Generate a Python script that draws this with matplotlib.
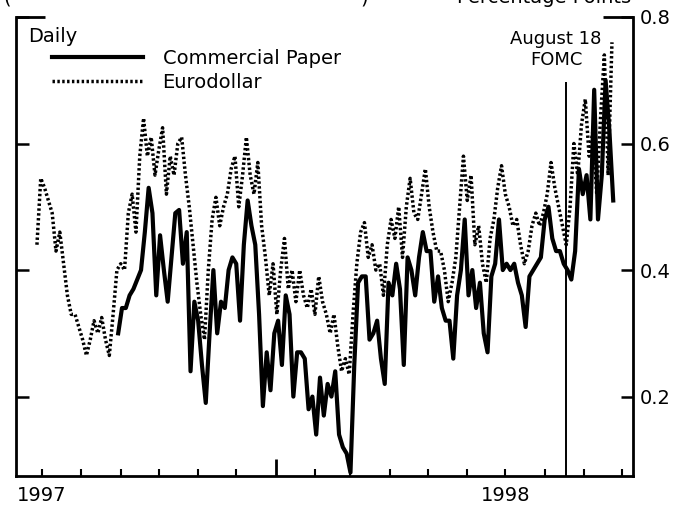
import matplotlib
matplotlib.use('Agg')
import matplotlib.pyplot as plt
import matplotlib.dates as mdates
import pandas as pd

# daily spreads, read every third calendar day off the chart (percentage points)
eurodollar_start = '1997-06-27'
eurodollar = [
    0.44, 0.545, 0.53, 0.51, 0.49, 0.43, 0.46, 0.41, 0.36, 0.33,
    0.33, 0.31, 0.29, 0.265, 0.29, 0.32, 0.30, 0.325, 0.29, 0.265,
    0.33, 0.40, 0.41, 0.40, 0.49, 0.52, 0.46, 0.58, 0.64, 0.58,
    0.61, 0.55, 0.59, 0.625, 0.52, 0.58, 0.55, 0.60, 0.61, 0.55,
    0.50, 0.44, 0.38, 0.33, 0.29, 0.40, 0.48, 0.515, 0.47, 0.50,
    0.52, 0.56, 0.58, 0.50, 0.55, 0.61, 0.55, 0.52, 0.57, 0.47,
    0.42, 0.36, 0.41, 0.33, 0.40, 0.45, 0.37, 0.40, 0.35, 0.40,
    0.36, 0.34, 0.37, 0.33, 0.39, 0.35, 0.33, 0.30, 0.33, 0.28,
    0.24, 0.26, 0.235, 0.33, 0.41, 0.46, 0.475, 0.42, 0.44, 0.40,
    0.41, 0.36, 0.44, 0.48, 0.45, 0.50, 0.42, 0.50, 0.545, 0.49,
    0.48, 0.52, 0.56, 0.50, 0.46, 0.43, 0.43, 0.40, 0.35, 0.38,
    0.42, 0.50, 0.58, 0.51, 0.55, 0.44, 0.47, 0.41, 0.38, 0.45,
    0.48, 0.53, 0.565, 0.52, 0.50, 0.47, 0.48, 0.44, 0.41, 0.43,
    0.47, 0.49, 0.47, 0.49, 0.52, 0.57, 0.53, 0.50, 0.47, 0.44,
    0.50, 0.60, 0.55, 0.63, 0.67, 0.58, 0.62, 0.52, 0.64, 0.74,
    0.55, 0.76,
]

cp_start = '1997-08-30'
commercial_paper = [
    0.30, 0.34, 0.34, 0.36, 0.37, 0.385, 0.40, 0.46, 0.53, 0.49,
    0.36, 0.455, 0.40, 0.35, 0.42, 0.49, 0.495, 0.41, 0.46, 0.24,
    0.35, 0.32, 0.25, 0.19, 0.30, 0.40, 0.30, 0.35, 0.34, 0.40,
    0.42, 0.41, 0.32, 0.44, 0.51, 0.47, 0.44, 0.33, 0.185, 0.27,
    0.21, 0.30, 0.32, 0.25, 0.36, 0.33, 0.20, 0.27, 0.27, 0.26,
    0.18, 0.20, 0.14, 0.23, 0.17, 0.22, 0.20, 0.24, 0.14, 0.12,
    0.11, 0.08, 0.25, 0.38, 0.39, 0.39, 0.29, 0.30, 0.32, 0.26,
    0.22, 0.38, 0.36, 0.41, 0.37, 0.25, 0.42, 0.40, 0.36, 0.42,
    0.46, 0.43, 0.43, 0.35, 0.39, 0.34, 0.32, 0.32, 0.26, 0.36,
    0.40, 0.48, 0.36, 0.40, 0.34, 0.38, 0.30, 0.27, 0.39, 0.41,
    0.48, 0.40, 0.41, 0.40, 0.41, 0.38, 0.36, 0.31, 0.39, 0.40,
    0.41, 0.42, 0.48, 0.50, 0.45, 0.43, 0.43, 0.41, 0.40, 0.385,
    0.43, 0.56, 0.52, 0.55, 0.48, 0.685, 0.48, 0.55, 0.70, 0.62,
    0.51,
]

series_labels = ['Commercial Paper', 'Eurodollar']
year_labels = ['1997', '1998']
year_label_dates = ['1997-07-01', '1998-07-01']
fomc_date = '1998-08-18'
y_ticks = [0.2, 0.4, 0.6, 0.8]

plt.rcParams['font.family'] = 'DejaVu Sans'

ed_dates = pd.date_range(eurodollar_start, periods=len(eurodollar), freq='3D')
cp_dates = pd.date_range(cp_start, periods=len(commercial_paper), freq='3D')

fig = plt.figure(figsize=(6.93, 5.09), dpi=100)
ax = fig.add_axes([16 / 693, 33 / 509, 617 / 693, 459 / 509])

cp_line, = ax.plot(cp_dates, commercial_paper, color='black', lw=3.0)
ed_line, = ax.plot(ed_dates, eurodollar, color='black', lw=2.5,
                   linestyle=(0, (0.7, 0.7)))

ax.set_xlim(mdates.date2num(pd.Timestamp('1997-06-10 12:00')),
            mdates.date2num(pd.Timestamp('1998-10-09 14:00')))
ax.set_ylim(0.0745, 0.8)

# FOMC marker
fomc = mdates.date2num(pd.Timestamp(fomc_date))
ax.vlines(fomc, 0.0745, 0.697, color='black', lw=1.4)
ax.text(fomc - 8, 0.749, 'August 18\nFOMC', ha='center', va='center',
        fontsize=13, linespacing=1.25)

# frame: no top line except the corners
for s in ['left', 'right', 'bottom']:
    ax.spines[s].set_linewidth(2.0)
ax.spines['top'].set_visible(False)
ax.plot([0, 0.047], [1, 1], transform=ax.transAxes, color='black', lw=2.0,
        clip_on=False, solid_capstyle='butt')
ax.plot([0.952, 1], [1, 1], transform=ax.transAxes, color='black', lw=2.0,
        clip_on=False, solid_capstyle='butt')

ax.set_yticks(y_ticks)
ax.set_yticklabels([f'{v:.1f}' for v in y_ticks])
ax.tick_params(axis='y', left=True, right=True, labelleft=False,
               labelright=True, direction='in', length=9, width=1.8,
               labelsize=14, pad=5)

ax.xaxis.set_major_locator(mdates.YearLocator())
ax.xaxis.set_minor_locator(mdates.MonthLocator())
ax.xaxis.set_major_formatter(plt.NullFormatter())
ax.tick_params(axis='x', which='major', direction='in', length=12, width=2)
ax.tick_params(axis='x', which='minor', direction='in', length=5, width=1.5)

for lab, d in zip(year_labels, year_label_dates):
    ax.text(mdates.date2num(pd.Timestamp(d)), -0.022, lab,
            transform=ax.get_xaxis_transform(), ha='center', va='top',
            fontsize=14)

ax.text(0.019, 0.946, 'Daily', transform=ax.transAxes, fontsize=14,
        va='baseline', ha='left')
ax.legend([cp_line, ed_line], series_labels, loc='upper left',
          bbox_to_anchor=(0.058, 0.931), frameon=False, fontsize=14,
          handlelength=4.7, handletextpad=1.0, borderpad=0,
          borderaxespad=0, labelspacing=0.25)

# top caption, cut off by the page edge in the source
fig.text(631 / 693, 1 - 3 / 509, 'Percentage Points', ha='right',
         va='baseline', fontsize=14)
fig.text(3 / 693, 1 - 3 / 509, '(', ha='left', va='baseline', fontsize=14)
fig.text(360 / 693, 1 - 3 / 509, ')', ha='left', va='baseline', fontsize=14)

fig.savefig('out.png', dpi=100)
